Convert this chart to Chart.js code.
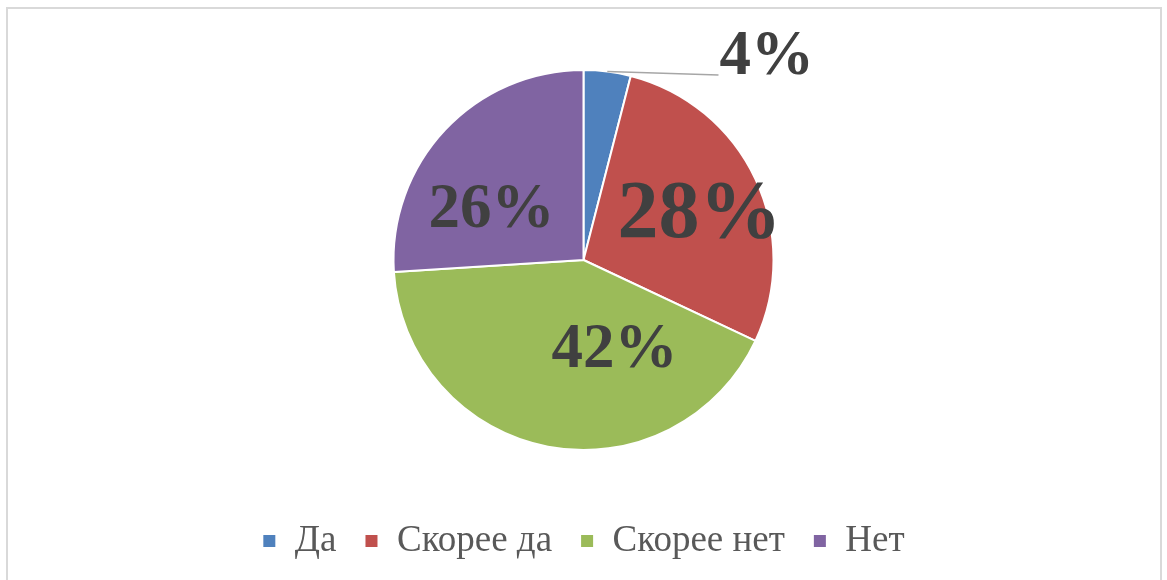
<!DOCTYPE html>
<html>
<head>
<meta charset="utf-8">
<script src="https://cdn.jsdelivr.net/npm/chart.js@4/dist/chart.umd.min.js"></script>
<style>
  html, body { margin: 0; padding: 0; background: #fff; overflow: hidden; }
  #frame { position: absolute; left: 6px; top: 7px; width: 1152px; height: 600px; border: 2px solid #d9d9d9; }
  #chart { position: absolute; left: 0; top: 0; }
</style>
</head>
<body>
<div id="frame"></div>
<canvas id="chart" width="1167" height="580"></canvas>
<script>
const categories = ["Да", "Скорее да", "Скорее нет", "Нет"];
const shares = [4, 28, 42, 26];
const sliceColors = ["#4f81bd", "#c0504d", "#9bbb59", "#8064a2"];

// label placement relative to pie center (px), and font size per slice
const labelSpots = [
  { dx: 136, dy: -202, size: 63, align: "left", leader: true },
  { dx: 116, dy: -44, size: 82 },
  { dx: 31, dy: 91, size: 63 },
  { dx: -92, dy: -49, size: 63 }
];

const pctLabels = {
  id: "pctLabels",
  afterDatasetsDraw(chart) {
    const ctx = chart.ctx;
    const meta = chart.getDatasetMeta(0);
    const total = shares.reduce((a, b) => a + b, 0);
    meta.data.forEach(function (arc, i) {
      const spot = labelSpots[i];
      const x = arc.x + spot.dx;
      const y = arc.y + spot.dy;
      ctx.save();
      if (spot.leader) {
        const mid = (arc.startAngle + arc.endAngle) / 2;
        const sx = arc.x + Math.cos(mid) * arc.outerRadius;
        const sy = arc.y + Math.sin(mid) * arc.outerRadius;
        ctx.strokeStyle = "#a6a6a6";
        ctx.lineWidth = 1.5;
        ctx.beginPath();
        ctx.moveTo(sx, sy);
        ctx.lineTo(x - 1, y + 17);
        ctx.stroke();
      }
      ctx.fillStyle = "#404040";
      ctx.font = "bold " + spot.size + "px 'Liberation Serif', 'Times New Roman', serif";
      ctx.textAlign = spot.align || "center";
      ctx.textBaseline = "middle";
      ctx.fillText(Math.round(shares[i] / total * 100) + "%", x, y);
      ctx.restore();
    });
  }
};

new Chart(document.getElementById("chart"), {
  type: "pie",
  data: {
    labels: categories,
    datasets: [{
      data: shares,
      backgroundColor: sliceColors,
      borderColor: "#ffffff",
      borderWidth: 2,
      radius: 190
    }]
  },
  options: {
    responsive: false,
    animation: false,
    layout: { padding: { top: 25.5, bottom: 10.5 } },
    plugins: {
      tooltip: { enabled: false },
      legend: {
        position: "bottom",
        labels: {
          boxWidth: 14,
          boxHeight: 14,
          padding: 28,
          color: "#595959",
          font: { family: "'Liberation Serif', 'Times New Roman', serif", size: 37 }
        }
      }
    }
  },
  plugins: [pctLabels]
});
</script>
</body>
</html>
